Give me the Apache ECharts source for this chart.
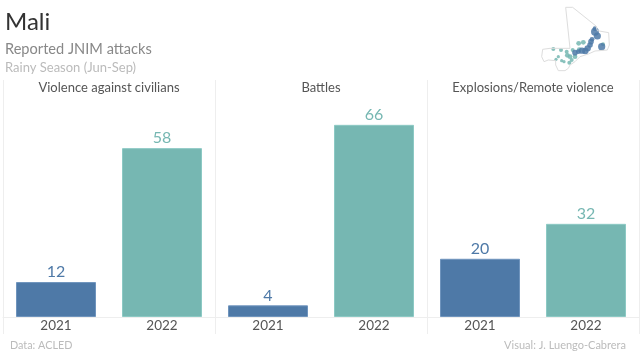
<!DOCTYPE html>
<html><head><meta charset="utf-8">
<style>html,body{margin:0;padding:0;background:#fff}#c{width:640px;height:360px}</style>
<script src="https://cdn.jsdelivr.net/npm/echarts@6/dist/echarts.min.js"></script></head>
<body><div id="c"></div>
<script>
const years = ['2021','2022'];
const panels = ['Violence against civilians','Battles','Explosions/Remote violence'];
const values2021 = [12,4,20];
const values2022 = [58,66,32];
// Inset map in the inset's own units
const mapOutline = [[137,22],[158,22],[228,78],[232,92],[266,98],[268,135],[262,150],[225,153],[205,162],[180,170],[165,185],[150,195],[145,205],[135,212],[115,212],[107,195],[107,182],[85,180],[72,185],[65,170],[68,148],[90,145],[150,145],[137,22]];
const eventsBlue = [[225,95,5],[232,108,4.5],[225,86,3],[213,125,3.5],[216,118,3],[210,135,3.5],[203,145,4],[196,153,4],[186,152,4],[245,140,4.5],[165,158,3.5],[175,155,3]];
const eventsTeal = [[190,127,3],[176,130,3],[100,147,2.5],[123,150,2.5],[140,155,2.5],[142,166,3],[150,170,3],[155,180,2.5],[115,170,2],[125,182,2],[108,178,2],[148,188,2.5],[178,149,3],[249,133,2.5],[165,170,3],[158,150,2.5],[132,185,2]];

const FONT='Lato';
const BLUE='#4e79a7', TEAL='#76b7b2';
const lefts=[3,215,427], W=212, TOP=80, BASE=317;
const grids=[],xAxes=[],yAxes=[],series=[],titles=[],lines=[];
panels.forEach((p,i)=>{
  grids.push({left:lefts[i],width:W,top:TOP,height:BASE-TOP});
  xAxes.push({type:'category',gridIndex:i,data:years,axisTick:{show:false},
    axisLine:{lineStyle:{color:'#eeeeee'}},
    axisLabel:{color:'#555',fontFamily:FONT,fontSize:13.5,margin:1,lineHeight:16,verticalAlign:'top'}});
  yAxes.push({type:'value',gridIndex:i,min:0,max:81.4,show:false});
  series.push({type:'bar',xAxisIndex:i,yAxisIndex:i,barWidth:80,
    data:[{value:values2021[i],itemStyle:{color:BLUE,borderColor:'#6f94bd',borderWidth:1},label:{color:BLUE}},
          {value:values2022[i],itemStyle:{color:TEAL,borderColor:'#8cc9c4',borderWidth:1},label:{color:TEAL}}],
    label:{show:true,position:'top',distance:2,fontFamily:FONT,fontSize:16}});
  titles.push({text:p,left:lefts[i]+W/2,top:81,padding:0,textAlign:'center',
    textStyle:{color:'#555',fontFamily:FONT,fontSize:13,fontWeight:'normal'}});
});
[3.5,215.5,427.5,639.5].forEach(x=>lines.push({type:'line',silent:true,shape:{x1:x,y1:80,x2:x,y2:334},style:{stroke:'#eeeeee',lineWidth:1}}));
// inset grid: occupies 520..640 x 0..80, scaled 3x in data units
grids.push({left:520,top:0,width:120,height:80});
xAxes.push({type:'value',gridIndex:3,min:0,max:360,show:false});
yAxes.push({type:'value',gridIndex:3,min:0,max:240,inverse:true,show:false});
series.push({type:'line',xAxisIndex:3,yAxisIndex:3,data:mapOutline,symbol:'none',silent:true,lineStyle:{color:'#dddddd',width:1}});
const pts=(d,c)=>({type:'scatter',xAxisIndex:3,yAxisIndex:3,data:d,symbolSize:v=>v[2]*1.6,itemStyle:{color:c,opacity:0.85},silent:true});
series.push(pts(eventsTeal,TEAL),pts(eventsBlue,BLUE));
titles.push(
 {text:'Mali',left:5,top:10,padding:0,textStyle:{color:'#333',fontFamily:FONT,fontSize:24,fontWeight:'normal'}},
 {text:'Reported JNIM attacks',left:5,top:42,padding:0,textStyle:{color:'#888',fontFamily:FONT,fontSize:14.6,fontWeight:'normal'}},
 {text:'Rainy Season (Jun-Sep)',left:5,top:61,padding:0,textStyle:{color:'#bbb',fontFamily:FONT,fontSize:13,fontWeight:'normal'}},
 {text:'Data: ACLED',left:10,top:340,padding:0,textStyle:{color:'#bbb',fontFamily:FONT,fontSize:10.8,fontWeight:'normal'}},
 {text:'Visual: J. Luengo-Cabrera',right:14,top:340,padding:0,textStyle:{color:'#bbb',fontFamily:FONT,fontSize:11,fontWeight:'normal'}}
);
const chart=echarts.init(document.getElementById('c'),null,{renderer:'canvas'});
chart.setOption({animation:false,backgroundColor:'#fff',title:titles,grid:grids,xAxis:xAxes,yAxis:yAxes,series,graphic:lines});
</script></body></html>
